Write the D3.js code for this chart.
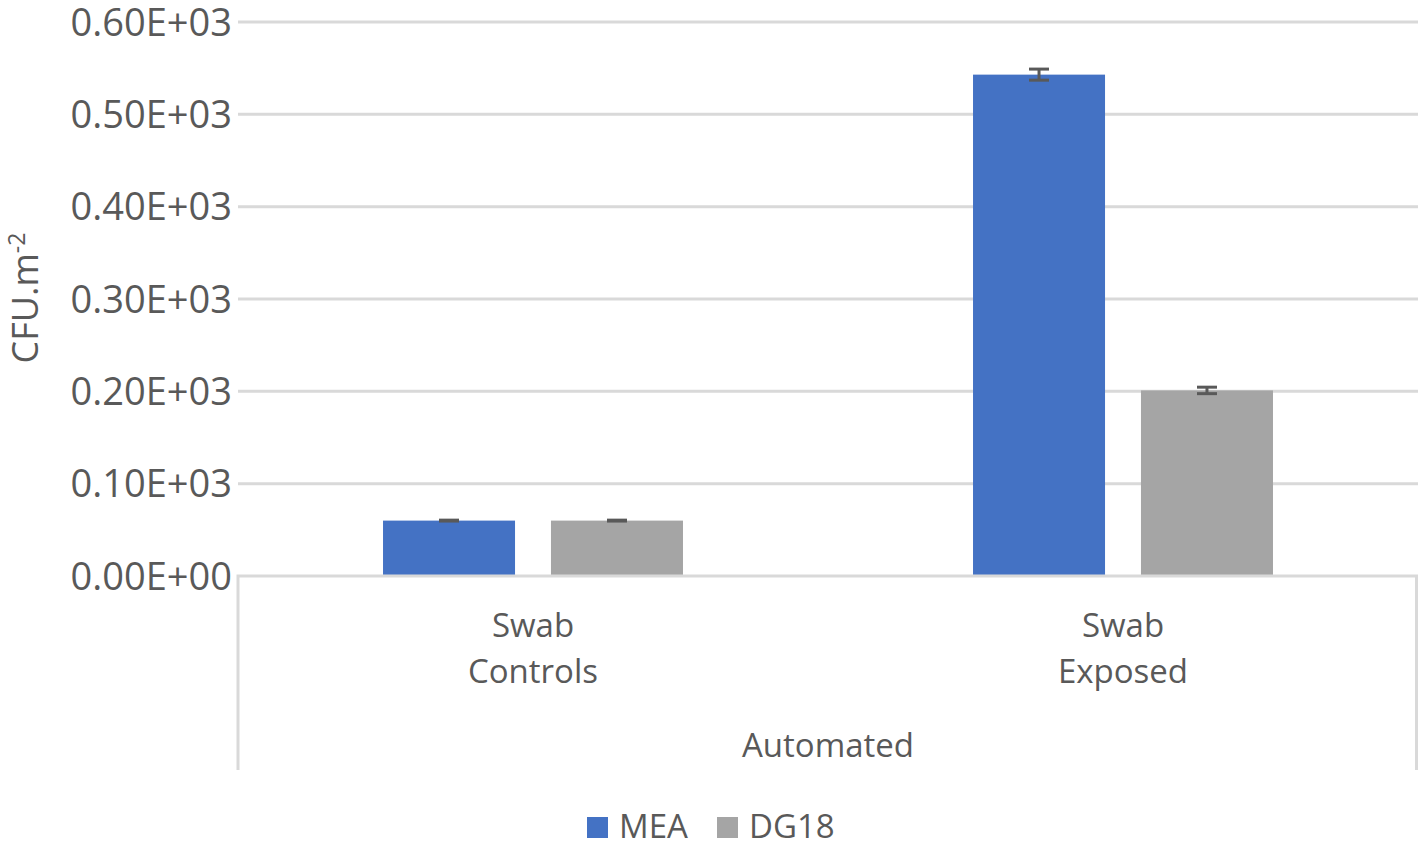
<!DOCTYPE html>
<html>
<head>
<meta charset="utf-8">
<script src="https://cdn.jsdelivr.net/npm/d3@7"></script>
<style>
  body { margin: 0; background: #fff; }
  text { font-family: "Open Sans", sans-serif; fill: #595959; }
</style>
</head>
<body>
<div id="chart"></div>
<script>
// data
const categories = ["Swab Controls", "Swab Exposed"];
const groupLabel = "Automated";
const series = ["MEA", "DG18"];
const meaValues = [60, 543];
const dg18Values = [60, 201];
const meaErrors = [0.5, 6];
const dg18Errors = [0.5, 3.5];
const yTicks = [0, 100, 200, 300, 400, 500, 600];
const yTickLabels = ["0.00E+00", "0.10E+03", "0.20E+03", "0.30E+03", "0.40E+03", "0.50E+03", "0.60E+03"];
const colors = ["#4472c4", "#a5a5a5"];

let width = 1421,
    height = 850;

let margin = { top: 22, bottom: 274, left: 238, right: 3 };

let svg = d3.select('#chart')
  .append('svg')
  .attr('width', width)
  .attr('height', height);

let yScale = d3.scaleLinear()
  .domain([0, 600])
  .range([height - margin.bottom, margin.top]);

let xScale = d3.scaleBand()
  .domain(categories)
  .range([margin.left, width - margin.right])
  .padding(0);

// bars inside each category
let seriesScale = d3.scaleBand()
  .domain(series)
  .range([xScale.bandwidth() * 0.2458, xScale.bandwidth() * 0.7542])
  .paddingInner(0.214)
  .paddingOuter(0);

// gridlines
svg.append('g')
  .selectAll('line')
  .data(yTicks.slice(1))
  .enter()
  .append('line')
  .attr('x1', margin.left)
  .attr('x2', width - margin.right)
  .attr('y1', d => yScale(d))
  .attr('y2', d => yScale(d))
  .attr('stroke', '#d9d9d9')
  .attr('stroke-width', 3);

// y tick labels
svg.append('g')
  .selectAll('text')
  .data(yTicks)
  .enter()
  .append('text')
  .attr('x', margin.left - 6)
  .attr('y', d => yScale(d))
  .attr('dy', '0.36em')
  .style('text-anchor', 'end')
  .style('font-size', '38px')
  .text((d, i) => yTickLabels[i]);

// bars
const rows = categories.map((c, i) => ({
  category: c,
  values: [
    { name: "MEA", value: meaValues[i], err: meaErrors[i] },
    { name: "DG18", value: dg18Values[i], err: dg18Errors[i] }
  ]
}));

let groups = svg.selectAll('.group')
  .data(rows)
  .enter()
  .append('g')
  .attr('class', 'group')
  .attr('transform', d => `translate(${xScale(d.category)},0)`);

groups.selectAll('rect')
  .data(d => d.values)
  .enter()
  .append('rect')
  .attr('x', d => seriesScale(d.name))
  .attr('y', d => yScale(d.value))
  .attr('width', seriesScale.bandwidth())
  .attr('height', d => yScale(0) - yScale(d.value))
  .attr('fill', (d, i) => colors[i]);

// error bars
let err = groups.selectAll('.err')
  .data(d => d.values)
  .enter()
  .append('g')
  .attr('class', 'err')
  .attr('stroke', '#595959')
  .attr('stroke-width', 3);

err.append('line')
  .attr('x1', d => seriesScale(d.name) + seriesScale.bandwidth() / 2)
  .attr('x2', d => seriesScale(d.name) + seriesScale.bandwidth() / 2)
  .attr('y1', d => yScale(d.value + d.err))
  .attr('y2', d => yScale(d.value - d.err));

err.selectAll('.cap')
  .data(d => [d.value + d.err, d.value - d.err].map(v => ({ v: v, name: d.name })))
  .enter()
  .append('line')
  .attr('x1', d => seriesScale(d.name) + seriesScale.bandwidth() / 2 - 10)
  .attr('x2', d => seriesScale(d.name) + seriesScale.bandwidth() / 2 + 10)
  .attr('y1', d => yScale(d.v))
  .attr('y2', d => yScale(d.v));

// category axis box
const axisY = yScale(0);
const boxBottom = 770;
svg.append('path')
  .attr('d', `M${margin.left},${boxBottom}V${axisY}H${width - margin.right - 1.5}V${boxBottom}`)
  .attr('fill', 'none')
  .attr('stroke', '#d9d9d9')
  .attr('stroke-width', 3);

// category labels (two lines)
groups.append('text')
  .attr('x', xScale.bandwidth() / 2)
  .attr('y', 637)
  .style('text-anchor', 'middle')
  .style('font-size', '33px')
  .selectAll('tspan')
  .data(d => d.category.split(' '))
  .enter()
  .append('tspan')
  .attr('x', xScale.bandwidth() / 2)
  .attr('dy', (d, i) => i === 0 ? 0 : 46)
  .text(d => d);

// group label
svg.append('text')
  .attr('x', (margin.left + width - margin.right) / 2)
  .attr('y', 757)
  .style('text-anchor', 'middle')
  .style('font-size', '33px')
  .text(groupLabel);

// y axis title
let yTitle = svg.append('text')
  .attr('transform', 'translate(38,298) rotate(-90)')
  .style('text-anchor', 'middle')
  .style('font-size', '36px');
yTitle.append('tspan').text('CFU.m');
yTitle.append('tspan')
  .attr('dy', '-0.55em')
  .style('font-size', '23px')
  .text('-2');

// legend
const legendX = [587, 717];
let legend = svg.selectAll('.legend')
  .data(series)
  .enter()
  .append('g')
  .attr('class', 'legend')
  .attr('transform', (d, i) => `translate(${legendX[i]},817)`);

legend.append('rect')
  .attr('width', 21)
  .attr('height', 21)
  .attr('fill', (d, i) => colors[i]);

legend.append('text')
  .attr('x', 32)
  .attr('y', 21)
  .style('font-size', '33px')
  .text(d => d);
</script>
</body>
</html>
